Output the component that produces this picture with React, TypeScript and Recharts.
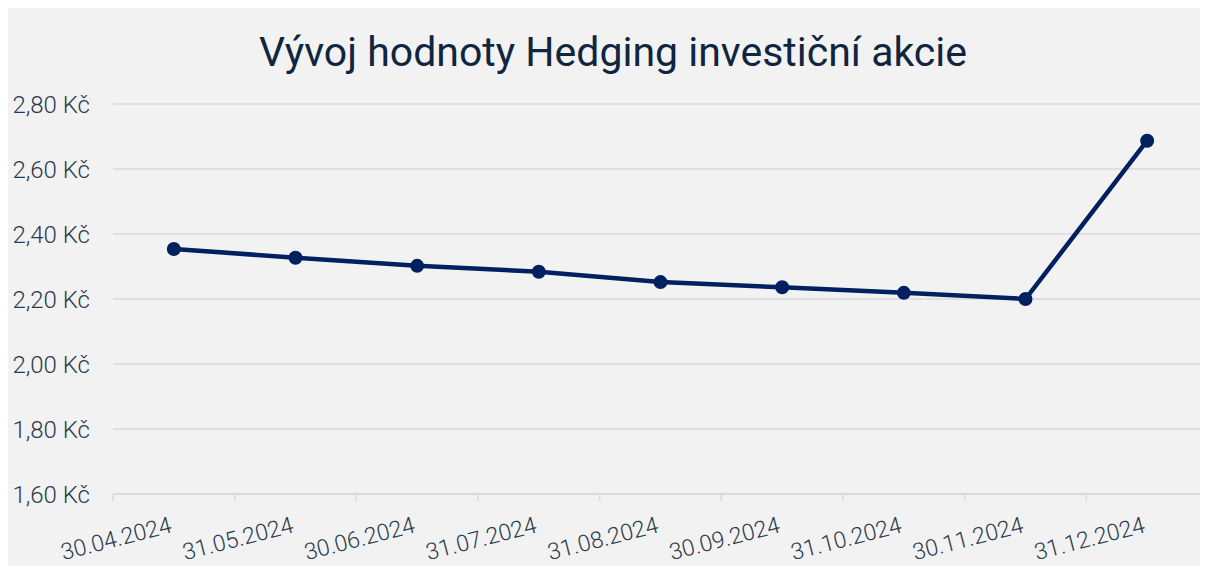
import { useLayoutEffect } from "react"
import { LineChart, Line, XAxis, YAxis, CartesianGrid } from "recharts"

const dates = [
  "30.04.2024",
  "31.05.2024",
  "30.06.2024",
  "31.07.2024",
  "31.08.2024",
  "30.09.2024",
  "31.10.2024",
  "30.11.2024",
  "31.12.2024",
]
const values = [2.354, 2.327, 2.302, 2.284, 2.252, 2.236, 2.219, 2.2, 2.687]
const yTicks = [1.6, 1.8, 2.0, 2.2, 2.4, 2.6, 2.8]

// points sit in the middle of each band, tick marks on the band edges
const data = dates.map((d, i) => ({ date: d, pos: i + 0.5, value: values[i] }))
const xTicks = Array.from({ length: dates.length * 2 + 1 }, (_, i) => i / 2)

const GRID = "#d9d9d9"
const TEXT = "#2b3a4c"

function XTick(props: any) {
  const { x, y, payload } = props
  const v = payload.value as number
  if (Number.isInteger(v)) {
    return <line x1={x} y1={y} x2={x} y2={y + 7} stroke={GRID} strokeWidth={1.5} />
  }
  return (
    <g transform={`translate(${x - 1},${y + 38}) rotate(-14.5)`}>
      <text x={0} y={0} textAnchor="end" fill={TEXT} fontSize={23} fontWeight={300} fontFamily="Roboto">
        {dates[Math.floor(v)]}
      </text>
    </g>
  )
}

export default function App() {
  // the chart fills the window right to its edges, so keep scrollbars away
  useLayoutEffect(() => {
    document.documentElement.style.overflow = "hidden"
    document.body.style.overflow = "hidden"
  }, [])

  return (
    <div style={{ position: "relative", width: 1200, height: 558, background: "#f2f2f2", fontFamily: "Roboto" }}>
      <div
        style={{
          position: "absolute",
          top: 24,
          left: 0,
          width: 1200,
          textAlign: "center",
          fontSize: 41,
          lineHeight: "41px",
          color: "#0f2540",
          paddingLeft: 10,
          boxSizing: "border-box",
        }}
      >
        Vývoj hodnoty Hedging investiční akcie
      </div>
      <LineChart width={1200} height={558} data={data} margin={{ top: 96, right: 0, bottom: 0, left: 0 }}>
        <CartesianGrid vertical={false} stroke={GRID} strokeWidth={1.5} />
        <XAxis
          dataKey="pos"
          type="number"
          domain={[0, dates.length]}
          ticks={xTicks}
          interval={0}
          height={72}
          tickLine={false}
          tickSize={0}
          tickMargin={0}
          axisLine={{ stroke: GRID, strokeWidth: 1.5 }}
          tick={<XTick />}
        />
        <YAxis
          domain={[1.6, 2.8]}
          ticks={yTicks}
          interval={0}
          width={105}
          axisLine={false}
          tickLine={false}
          tickSize={0}
          tickMargin={23}
          tick={{ fill: TEXT, fontSize: 24, fontWeight: 300, fontFamily: "Roboto" }}
          tickFormatter={(v: number) => v.toFixed(2).replace(".", ",") + " Kč"}
        />
        <Line
          dataKey="value"
          stroke="#002060"
          strokeWidth={4.5}
          dot={{ r: 6, fill: "#002060", stroke: "#002060", strokeWidth: 2 }}
          activeDot={false}
          isAnimationActive={false}
        />
      </LineChart>
    </div>
  )
}
